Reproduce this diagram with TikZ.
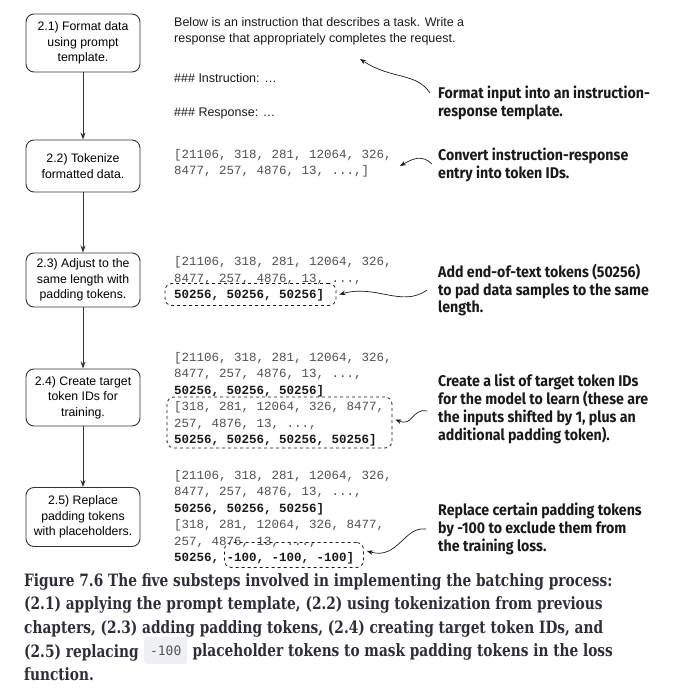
\documentclass[tikz,border=0pt]{standalone}
\usepackage{fontspec}
\setmainfont{Liberation Sans}
\newfontfamily\codefont{Liberation Mono}
\newfontfamily\chipfont{DejaVu Sans Mono}
\newfontfamily\notefont[FakeStretch=0.915]{Fira Sans}
\newfontfamily\capfont[FakeStretch=0.807]{DejaVu Serif}
\usetikzlibrary{arrows.meta}
\definecolor{boxline}{HTML}{333333}
\definecolor{codegray}{HTML}{505050}
\definecolor{codedark}{HTML}{1A1A1A}
\definecolor{notecol}{HTML}{1A1A1A}
\definecolor{capcol}{HTML}{2E2E3A}
\definecolor{chipfill}{HTML}{EEF0F4}
\definecolor{chiptext}{HTML}{555555}
\tikzset{
  stepbox/.style={draw=boxline, line width=0.9pt, rounded corners=8pt, minimum width=114pt, align=center, inner sep=2pt,
    font=\fontsize{12.3}{15.5}\selectfont},
  flowarrow/.style={draw=boxline, line width=0.9pt, -{Stealth[length=7pt,width=5pt]}},
  codeline/.style={anchor=west, inner sep=0pt, text height=7pt, text depth=0pt, text=codegray,
    font=\codefont\fontsize{12.5}{16}\selectfont},
  codebold/.style={codeline, text=codedark, font=\codefont\bfseries\fontsize{12.5}{16}\selectfont},
  plaintext/.style={anchor=west, inner sep=0pt, text height=9pt, text depth=0pt, text=codedark,
    font=\fontsize{12.5}{15}\selectfont},
  notetext/.style={anchor=west, inner sep=0pt, text height=11pt, text depth=0pt, text=notecol,
    font=\notefont\bfseries\fontsize{15.5}{18}\selectfont},
  dashbox/.style={draw=codedark, dashed, line width=0.8pt, rounded corners=7pt, inner sep=0pt},
  pointer/.style={draw=codedark, line width=0.7pt, -{Stealth[length=6pt,width=4.5pt]}},
  captext/.style={anchor=west, inner sep=0pt, text height=12pt, text depth=0pt, text=capcol,
    font=\capfont\bfseries\fontsize{17}{24}\selectfont},
  chipbox/.style={anchor=west, fill=chipfill, rounded corners=3pt, inner sep=0pt, minimum width=43pt, minimum height=27pt,
    text=chiptext, font=\chipfont\fontsize{13}{15}\selectfont}
}
\begin{document}
\begin{tikzpicture}[x=1pt,y=-1pt]
\useasboundingbox (0,0) rectangle (673,696);
% step boxes
\node[stepbox, minimum height=58pt] (s1) at (83,43) {2.1) Format data\\using prompt\\template.};
\node[stepbox, minimum height=52pt] (s2) at (83,166) {2.2) Tokenize\\formatted data.};
\node[stepbox, minimum height=54pt] (s3) at (83,280) {2.3) Adjust to the\\same length with\\padding tokens.};
\node[stepbox, minimum height=57pt] (s4) at (83,397.5) {2.4) Create target\\token IDs for\\training.};
\node[stepbox, minimum height=59pt] (s5) at (83,517) {2.5) Replace\\padding tokens\\with placeholders.};
\draw[flowarrow] (s1) -- (s2);
\draw[flowarrow] (s2) -- (s3);
\draw[flowarrow] (s3) -- (s4);
\draw[flowarrow] (s4) -- (s5);
% 2.1 template text
\node[plaintext] (t1) at (174,22) {Below is an instruction that describes a task. Write a};
\node[plaintext] (t2) at (174,38) {response that appropriately completes the request.};
\node[plaintext] (t3) at (174,78) {\#\#\# Instruction: \ldots};
\node[plaintext] (t4) at (174,112) {\#\#\# Response: \ldots};
% 2.2 code
\node[codeline] (a1) at (174,155) {[21106, 318, 281, 12064, 326,};
\node[codeline] (a2) at (174,171) {8477, 257, 4876, 13, ...,]};
% 2.3 code
\node[codeline] (b1) at (174,262) {[21106, 318, 281, 12064, 326,};
\node[codeline] (b2) at (174,278.5) {8477, 257, 4876, 13, ...,};
\node[codebold] (b3) at (174,295) {50256, 50256, 50256]};
\node[dashbox, minimum width=171pt, minimum height=22pt] (d3) at (250.5,294.5) {};
% 2.4 code
\node[codeline] (c1) at (174,357.5) {[21106, 318, 281, 12064, 326,};
\node[codeline] (c2) at (174,374) {8477, 257, 4876, 13, ...,};
\node[codebold] (c3) at (174,390.5) {50256, 50256, 50256]};
\node[codeline] (c4) at (174,407) {[318, 281, 12064, 326, 8477,};
\node[codeline] (c5) at (174,423.5) {257, 4876, 13, ...,};
\node[codebold] (c6) at (174,440) {50256, 50256, 50256, 50256]};
\node[dashbox, minimum width=225pt, minimum height=51pt] (d4) at (279.5,422.5) {};
% 2.5 code
\node[codeline] (e1) at (174,475.5) {[21106, 318, 281, 12064, 326,};
\node[codeline] (e2) at (174,492) {8477, 257, 4876, 13, ...,};
\node[codebold] (e3) at (174,508.5) {50256, 50256, 50256]};
\node[codeline] (e4) at (174,525) {[318, 281, 12064, 326, 8477,};
\node[codeline] (e5) at (174,541.5) {257, 4876, 13, ...,};
\node[codebold] (e6) at (174,558) {50256, -100, -100, -100]};
\node[dashbox, minimum width=139pt, minimum height=25pt] (d5) at (294,555) {};
% annotations
\node[notetext] (n1a) at (438,93) {Format input into an instruction-};
\node[notetext] (n1b) at (438,110.5) {response template.};
\node[notetext] (n2a) at (438,155) {Convert instruction-response};
\node[notetext] (n2b) at (438,172.5) {entry into token IDs.};
\node[notetext] (n3a) at (438,272) {Add end-of-text tokens (50256)};
\node[notetext] (n3b) at (438,289.5) {to pad data samples to the same};
\node[notetext] (n3c) at (438,307) {length.};
\node[notetext] (n4a) at (438,381) {Create a list of target token IDs};
\node[notetext] (n4b) at (438,399) {for the model to learn (these are};
\node[notetext] (n4c) at (438,417) {the inputs shifted by 1, plus an};
\node[notetext] (n4d) at (438,435) {additional padding token).};
\node[notetext] (n5a) at (438,510) {Replace certain padding tokens};
\node[notetext] (n5b) at (438,528) {by -100 to exclude them from};
\node[notetext] (n5c) at (438,545.5) {the training loss.};
% pointers
\coordinate (p1s) at (430,93);
\coordinate (p1e) at (360,59);
\coordinate (p2s) at (432,164);
\coordinate (p2e) at (400,166);
\coordinate (p3s) at (427,290);
\coordinate (p4s) at (427,411);
\coordinate (p5s) at (426,529);
\draw[pointer] (p1s) .. controls (416,72) and (392,80) .. (p1e);
\draw[pointer] (p2s) .. controls (422,154) and (412,159) .. (p2e);
\draw[pointer] (p3s) .. controls (402,308) and (376,284) .. ([xshift=3pt]d3.east);
\draw[pointer] (p4s) .. controls (412,408) and (413,427) .. ([xshift=3pt,yshift=3pt]d4.east);
\draw[pointer] (p5s) .. controls (404,526) and (398,560) .. ([xshift=3pt,yshift=4pt]d5.east);
% caption
\node[captext] (f1) at (24,580) {Figure 7.6 The five substeps involved in implementing the batching process:};
\node[captext] (f2) at (24,603.5) {(2.1) applying the prompt template, (2.2) using tokenization from previous};
\node[captext] (f3) at (24,627) {chapters, (2.3) adding padding tokens, (2.4) creating target token IDs, and};
\node[captext] (f4a) at (24,651) {(2.5) replacing};
\node[chipbox] (f4b) at (144,650.5) {-100};
\node[captext] (f4c) at ([xshift=5pt]f4b.east) {placeholder tokens to mask padding tokens in the loss};
\node[captext] (f5) at (24,674.5) {function.};
\end{tikzpicture}
\end{document}
